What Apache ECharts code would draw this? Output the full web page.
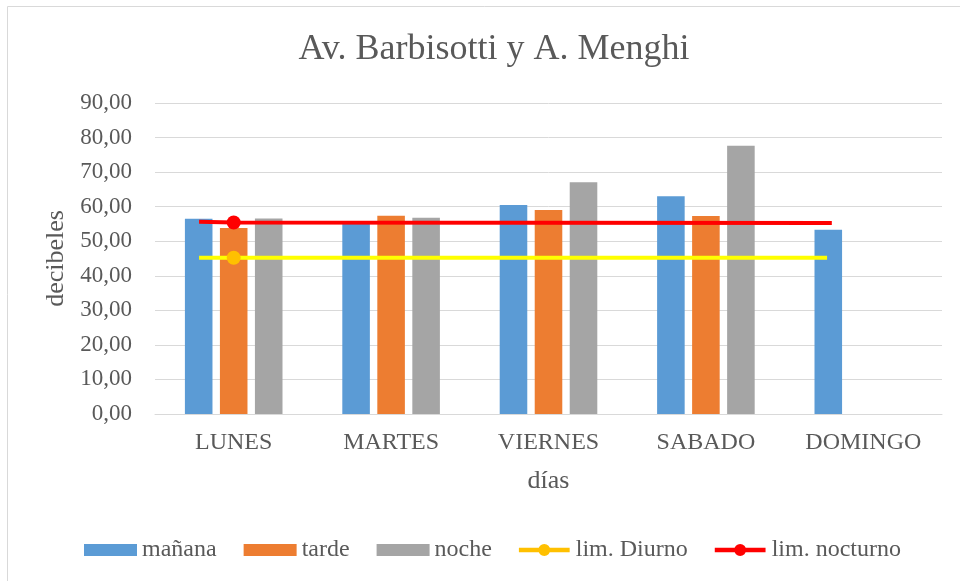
<!DOCTYPE html>
<html>
<head>
<meta charset="utf-8">
<script src="https://cdn.jsdelivr.net/npm/echarts@6/dist/echarts.min.js"></script>
<style>
* {
  margin: 0;
  padding: 0;
}
#chart {
  width: 960px;
  height: 581px;
  background: #fff;
}
</style>
</head>
<body>
<div id="chart"></div>
<script>
// data
const dias = ["LUNES", "MARTES", "VIERNES", "SABADO", "DOMINGO"];
const manana = [56.5, 55.3, 60.5, 63.0, 53.3];
const tarde = [53.8, 57.4, 59.0, 57.3, null];
const noche = [56.6, 56.8, 67.1, 77.6, null];
const yTicks = [0, 10, 20, 30, 40, 50, 60, 70, 80, 90];
// limit lines: position along the day axis (0 = LUNES) and level
const limPosDiurno = [-0.22, 0, 3.77];
const limDiurno = [45.2, 45.2, 45.2];
const limPosNocturno = [-0.22, 0, 3.8];
const limNocturno = [55.6, 55.4, 55.3];

const textColor = "#595959";
const font = "Liberation Serif";
// legend icon: thick line with a dot in the middle
const lineDotIcon = "path://M0,4H55V9H0Z M21,6.5A6.5,6.5 0 1,1 34,6.5A6.5,6.5 0 1,1 21,6.5Z";

function limSeries(name, pos, vals, lineColor, dotColor) {
  return {
    name: name,
    type: "line",
    xAxisIndex: 1,
    symbol: "circle",
    symbolSize: 14,
    z: 5,
    lineStyle: { color: lineColor, width: 4 },
    itemStyle: { color: dotColor },
    // only the LUNES point carries a marker
    data: pos.map((p, i) => i === 1 ? [p, vals[i]] : { value: [p, vals[i]], symbol: "none" })
  };
}

const chart = echarts.init(document.getElementById("chart"));
chart.setOption({
  animation: false,
  textStyle: { fontFamily: font, color: textColor },
  title: {
    text: "Av. Barbisotti y A. Menghi",
    left: 489,
    textAlign: "center",
    top: 27,
    textStyle: { fontFamily: font, fontSize: 36, fontWeight: "normal", color: textColor }
  },
  graphic: [
    {
      type: "rect",
      shape: { x: 7.5, y: 6.5, width: 1000, height: 700 },
      style: { fill: "none", stroke: "#d9d9d9", lineWidth: 1 },
      silent: true
    }
  ],
  legend: {
    left: 79,
    top: 533,
    itemWidth: 53,
    itemHeight: 12,
    itemGap: 27,
    textStyle: { fontFamily: font, fontSize: 24, color: textColor },
    data: [
      { name: "mañana", icon: "rect" },
      { name: "tarde", icon: "rect" },
      { name: "noche", icon: "rect" },
      { name: "lim. Diurno", icon: lineDotIcon },
      { name: "lim. nocturno", icon: lineDotIcon }
    ]
  },
  grid: { left: 155, right: 18, top: 103, bottom: 167 },
  xAxis: [
    {
      type: "category",
      data: dias,
      name: "días",
      nameLocation: "middle",
      nameGap: 54,
      nameTextStyle: { fontFamily: font, fontSize: 26, color: textColor },
      axisLine: { lineStyle: { color: "#d9d9d9", width: 1 } },
      axisTick: { show: false },
      axisLabel: { fontFamily: font, fontSize: 24, color: textColor, margin: 17 }
    },
    { type: "value", min: -0.5, max: 4.5, show: false }
  ],
  yAxis: {
    type: "value",
    min: yTicks[0],
    max: yTicks[yTicks.length - 1],
    interval: 10,
    name: "decibeles",
    nameLocation: "middle",
    nameGap: 84,
    nameTextStyle: { fontFamily: font, fontSize: 26, color: textColor },
    axisLine: { show: false },
    axisTick: { show: false },
    splitLine: { lineStyle: { color: "#d9d9d9", width: 1 } },
    axisLabel: {
      fontFamily: font,
      fontSize: 23,
      color: textColor,
      margin: 23,
      formatter: v => v.toFixed(2).replace(".", ",")
    }
  },
  series: [
    { name: "mañana", type: "bar", data: manana, barGap: "27%", barCategoryGap: "38%", itemStyle: { color: "#5B9BD5" } },
    { name: "tarde", type: "bar", data: tarde, itemStyle: { color: "#ED7D31" } },
    { name: "noche", type: "bar", data: noche, itemStyle: { color: "#A5A5A5" } },
    limSeries("lim. Diurno", limPosDiurno, limDiurno, "#FFFF00", "#FFC000"),
    limSeries("lim. nocturno", limPosNocturno, limNocturno, "#FF0000", "#FF0000")
  ]
});
</script>
</body>
</html>
